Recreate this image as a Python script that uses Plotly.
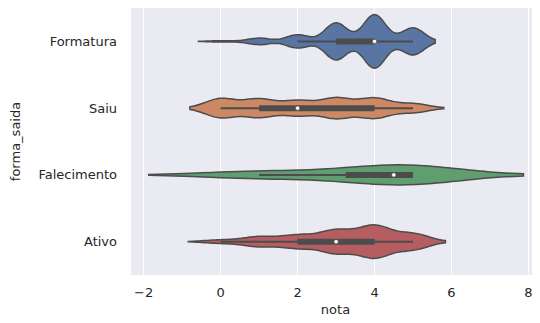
import numpy as np
import plotly.graph_objects as go

# ---- data ----
categorias = ["Formatura", "Saiu", "Falecimento", "Ativo"]
notas_possiveis = [0, 1, 2, 3, 4, 5]
contagem_formatura = [8, 40, 81, 225, 325, 164]
contagem_saiu = [207, 198, 160, 220, 217, 98]
contagem_ativo = [12, 34, 45, 78, 110, 55]
notas_falecimento = [1, 4, 5, 5]
x_ticks = [-2, 0, 2, 4, 6, 8]

cores = ["#5975a4", "#cc8963", "#5f9e6e", "#b55d60"]
cinza = "#4c4c4c"

amostras = {
    "Formatura": np.repeat(notas_possiveis, contagem_formatura).astype(float),
    "Saiu": np.repeat(notas_possiveis, contagem_saiu).astype(float),
    "Falecimento": np.array(notas_falecimento, dtype=float),
    "Ativo": np.repeat(notas_possiveis, contagem_ativo).astype(float),
}

fig = go.Figure()
for cat, cor in zip(categorias, cores):
    x = amostras[cat]
    bw = np.std(x, ddof=1) * len(x) ** (-0.2)  # Scott's rule as in seaborn
    fig.add_trace(go.Violin(
        x=x, y=[cat] * len(x), orientation="h",
        bandwidth=bw, spanmode="soft",
        scalegroup="all", scalemode="width",
        fillcolor=cor, opacity=1,
        line=dict(color=cinza, width=1.5),
        points=False, box_visible=False, meanline_visible=False,
        showlegend=False, hoverinfo="skip",
    ))

for cat in categorias:
    x = amostras[cat]
    q1, med, q3 = np.percentile(x, [25, 50, 75])
    iqr = q3 - q1
    lo = x[x >= q1 - 1.5 * iqr].min()
    hi = x[x <= q3 + 1.5 * iqr].max()
    fig.add_trace(go.Scatter(x=[lo, hi], y=[cat, cat], mode="lines",
                             line=dict(color=cinza, width=2),
                             showlegend=False, hoverinfo="skip"))
    fig.add_trace(go.Scatter(x=[q1, q3], y=[cat, cat], mode="lines",
                             line=dict(color=cinza, width=6),
                             showlegend=False, hoverinfo="skip"))
    fig.add_trace(go.Scatter(x=[med], y=[cat], mode="markers",
                             marker=dict(color="white", size=4.5,
                                         line=dict(color=cinza, width=0.8)),
                             showlegend=False, hoverinfo="skip"))

fonte = dict(family="DejaVu Sans", size=13, color="#262626")
fig.update_layout(
    width=532, height=315,
    margin=dict(l=123, r=0, t=0, b=48, autoexpand=False),
    paper_bgcolor="white", plot_bgcolor="#eaeaf2",
    violinmode="overlay", violingap=0.2, violingroupgap=0,
    font=fonte,
    xaxis=dict(range=[-2.33, 8.3], tickvals=x_ticks,
               ticktext=[("\u2212" + str(-v)) if v < 0 else str(v) for v in x_ticks],
               showgrid=True, gridcolor="white", gridwidth=1.3,
               zeroline=False, showline=False, ticks="",
               ticklabelstandoff=8, automargin=False,
               title=dict(text="nota", font=fonte, standoff=5)),
    yaxis=dict(type="category", categoryorder="array", categoryarray=categorias,
               range=[3.5, -0.5], showgrid=False, zeroline=False, showline=False,
               ticks="", ticklabelstandoff=13, automargin=False,
               title=dict(text="forma_saida", font=fonte, standoff=27)),
)

fig.write_html("out.html")
